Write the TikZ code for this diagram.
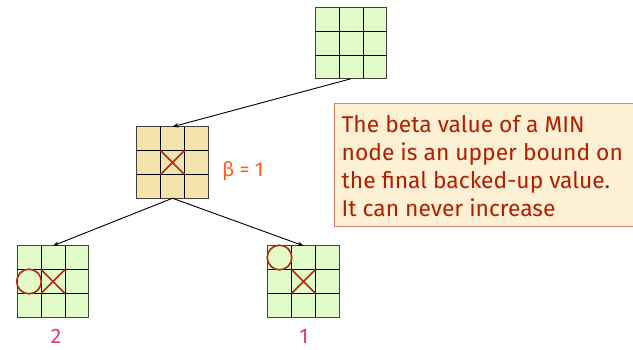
\documentclass[tikz,border=0pt]{standalone}
\usepackage{fontspec}
\setmainfont{Fira Sans}
\usetikzlibrary{arrows.meta,calc}
\definecolor{boardgreen}{HTML}{E1FCC9}
\definecolor{boardtan}{HTML}{F2E4AA}
\definecolor{markred}{HTML}{B52710}
\definecolor{betaorange}{HTML}{FF5A14}
\definecolor{valpink}{HTML}{E33580}
\definecolor{notefill}{HTML}{FDF0D4}
\definecolor{noteborder}{HTML}{D98466}
\definecolor{notetext}{HTML}{B02000}
\tikzset{
  board/.style={draw=black!75, line width=0.9pt, minimum size=71.5pt, inner sep=0pt, outer sep=0pt},
  gridline/.style={draw=black, line width=0.8pt},
  xomark/.style={draw=markred, line width=1.6pt},
  edge/.style={draw=black, line width=0.9pt, -{Stealth[length=6pt,width=4.5pt]}},
  val/.style={font=\fontsize{21}{24}\selectfont, text=valpink},
}
\newcommand\gridin[1]{%
  \draw[gridline] ($(#1.north west)+(23.8,0)$) -- ($(#1.south west)+(23.8,0)$);
  \draw[gridline] ($(#1.north west)+(47.7,0)$) -- ($(#1.south west)+(47.7,0)$);
  \draw[gridline] ($(#1.north west)+(0,23.8)$) -- ($(#1.north east)+(0,23.8)$);
  \draw[gridline] ($(#1.north west)+(0,47.7)$) -- ($(#1.north east)+(0,47.7)$);
  \draw[draw=black!75, line width=0.9pt] (#1.north west) rectangle (#1.south east);
}
\newcommand\xmark[1]{%
  \draw[xomark] ($(#1.center)+(-12,-12)$) -- ($(#1.center)+(12,12)$);
  \draw[xomark] ($(#1.center)+(-12,12)$) -- ($(#1.center)+(12,-12)$);
}
\begin{document}
\begin{tikzpicture}[x=1pt,y=-1pt]
\useasboundingbox (0,0) rectangle (633,350);
\node[board, fill=boardgreen] (root) at (351,43) {};
\node[board, fill=boardtan] (min) at (172.5,162.5) {};
\node[board, fill=boardgreen] (left) at (53,281.5) {};
\node[board, fill=boardgreen] (right) at (303.5,281.5) {};
\gridin{root}
\gridin{min}
\gridin{left}
\gridin{right}
\xmark{min}
\xmark{left}
\xmark{right}
\draw[xomark] ($(left.center)+(-24,0)$) circle (12.3);
\draw[xomark] ($(right.center)+(-24,-24)$) circle (12.3);
\draw[edge] (root.south) -- (min.north);
\draw[edge] (min.south) -- (left.north);
\draw[edge] (min.south) -- (right.north);
\node[font=\fontsize{20}{22}\selectfont, text=betaorange, anchor=west, inner sep=0pt] (beta) at (222,171) {β = 1};
\node[val] (v2) at (56,336) {2};
\node[val] (v1) at (304,336) {1};
\node[draw=noteborder, line width=1pt, fill=notefill, minimum width=299pt, minimum height=123pt, anchor=north west, inner sep=0pt] (note) at (333.5,103.5) {};
\node[anchor=west, align=left, text=notetext, font=\fontsize{22.8}{28}\selectfont, inner sep=0pt] (notetxt) at ($(note.west)+(8,1)$) {The beta value of a MIN\\node is an upper bound on\\the final backed-up value.\\It can never increase};
\end{tikzpicture}
\end{document}
